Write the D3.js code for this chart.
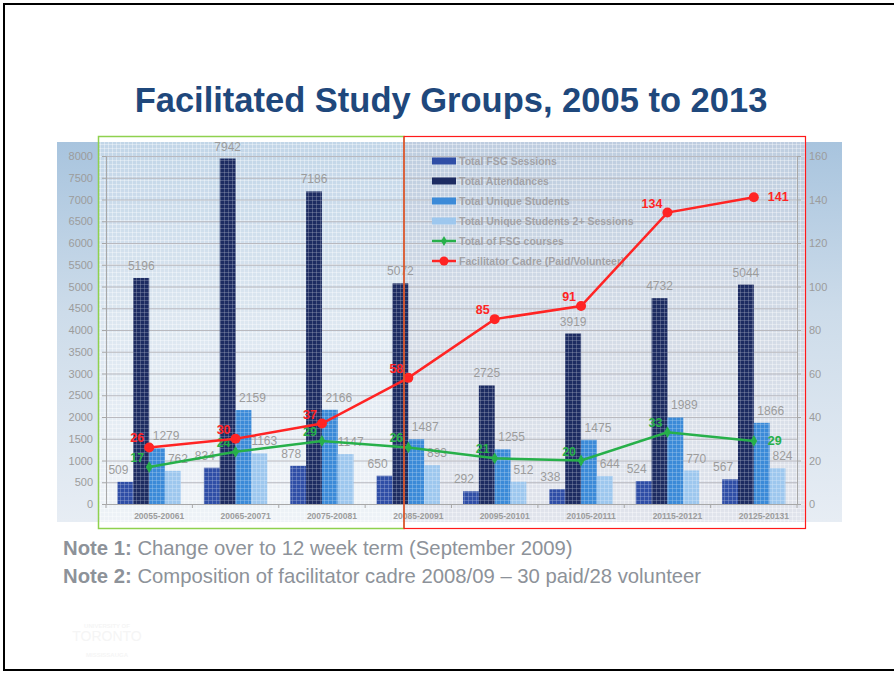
<!DOCTYPE html>
<html>
<head>
<meta charset="utf-8">
<script src="https://cdn.jsdelivr.net/npm/d3@7"></script>
<style>
  body { margin: 0; background: #fff; }
  svg { display: block; font-family: "Liberation Sans", Arial, sans-serif; }
</style>
</head>
<body>
<script>
(function(){

//chart data
var terms = ["20055-20061", "20065-20071", "20075-20081", "20085-20091", "20095-20101", "20105-20111", "20115-20121", "20125-20131"];
var barSeries = ["Total FSG Sessions", "Total Attendances", "Total Unique Students", "Total Unique Students 2+ Sessions"];
var sessions = [509, 834, 878, 650, 292, 338, 524, 567];
var attendances = [5196, 7942, 7186, 5072, 2725, 3919, 4732, 5044];
var uniqueStudents = [1279, 2159, 2166, 1487, 1255, 1475, 1989, 1866];
var uniqueTwoPlus = [762, 1163, 1147, 893, 512, 644, 770, 824];
var fsgCourses = [17, 24, 29, 26, 21, 20, 33, 29];
var cadre = [26, 30, 37, 58, 85, 91, 134, 141];
var leftTicks = d3.range(0, 8001, 500);
var rightTicks = d3.range(0, 161, 20);

var barColors = ["#2f4ea6", "#1d2c62", "#3b8ad8", "#9dc7ee"];
var barDx = [-7, 0, 9, 5];
var gray = "#9c9c9c";

window.onload = drawChart();

function drawChart(){
    var width = 894,
        height = 673;

    var svg = d3.select("body")
        .append("svg")
        .attr("width", width)
        .attr("height", height);

    var defs = svg.append("defs");

    //background gradient of the chart block
    var grad = defs.append("linearGradient")
        .attr("id", "bg")
        .attr("x1", 0).attr("y1", 0).attr("x2", 0).attr("y2", 1);
    grad.append("stop").attr("offset", "0%").attr("stop-color", "#a8c4de");
    grad.append("stop").attr("offset", "45%").attr("stop-color", "#cddcea");
    grad.append("stop").attr("offset", "100%").attr("stop-color", "#e7edf4");

    //little grid texture
    var tex = defs.append("pattern")
        .attr("id", "tex")
        .attr("patternUnits", "userSpaceOnUse")
        .attr("width", 4).attr("height", 4);
    tex.append("rect").attr("width", 4).attr("height", 1).attr("fill", "#fff").attr("opacity", 0.35);
    tex.append("rect").attr("width", 1).attr("height", 4).attr("fill", "#fff").attr("opacity", 0.35);

    //frame of the slide
    svg.append("rect")
        .attr("x", 4).attr("y", 4)
        .attr("width", 900).attr("height", 666)
        .attr("fill", "none")
        .attr("stroke", "#000")
        .attr("stroke-width", 2);

    svg.append("text")
        .attr("x", 451).attr("y", 112)
        .attr("text-anchor", "middle")
        .attr("font-size", 34.5)
        .attr("font-weight", "bold")
        .attr("fill", "#1f487c")
        .text("Facilitated Study Groups, 2005 to 2013");

    //chart block background
    svg.append("rect")
        .attr("x", 57).attr("y", 142)
        .attr("width", 785).attr("height", 380)
        .attr("fill", "url(#bg)");
    svg.append("rect")
        .attr("x", 98).attr("y", 142)
        .attr("width", 306).attr("height", 380)
        .attr("fill", "#fff").attr("opacity", 0.3);
    svg.append("rect")
        .attr("x", 404).attr("y", 142)
        .attr("width", 402).attr("height", 380)
        .attr("fill", "#d9d9e3").attr("opacity", 0.45);
    svg.append("rect")
        .attr("x", 98).attr("y", 142)
        .attr("width", 708).attr("height", 380)
        .attr("fill", "url(#tex)");

    var plot = {left: 106, right: 797, top: 156, bottom: 504};

    var x = d3.scaleBand()
        .domain(terms)
        .range([plot.left, plot.right]);

    var xInner = d3.scaleBand()
        .domain(barSeries)
        .range([0, x.bandwidth()])
        .paddingOuter(0.73);

    var yLeft = d3.scaleLinear()
        .domain([0, 8000])
        .range([plot.bottom, plot.top]);

    var yRight = d3.scaleLinear()
        .domain([0, 160])
        .range([plot.bottom, plot.top]);

    //gridlines
    svg.append("g")
        .selectAll("line")
        .data(leftTicks)
        .enter()
        .append("line")
        .attr("x1", plot.left).attr("x2", plot.right)
        .attr("y1", function(d){ return yLeft(d) + 0.5; })
        .attr("y2", function(d){ return yLeft(d) + 0.5; })
        .attr("stroke", "#b9b9bf")
        .attr("stroke-width", 1);

    //axes
    var axisLeft = svg.append("g")
        .attr("transform", "translate(" + plot.left + ",0)")
        .call(d3.axisLeft(yLeft).tickValues(leftTicks).tickSize(4).tickPadding(9).tickFormat(d3.format("d")));

    var axisRight = svg.append("g")
        .attr("transform", "translate(" + plot.right + ",0)")
        .call(d3.axisRight(yRight).tickValues(rightTicks).tickSize(4).tickPadding(8));

    var axisBottom = svg.append("g")
        .attr("transform", "translate(0," + plot.bottom + ")")
        .call(d3.axisBottom(x).tickSize(0).tickPadding(9));

    //tick marks between the groups
    axisBottom.selectAll(".sep")
        .data(terms.concat(["end"]))
        .enter()
        .append("line")
        .attr("class", "sep")
        .attr("x1", function(d, i){ return plot.left + i * x.step(); })
        .attr("x2", function(d, i){ return plot.left + i * x.step(); })
        .attr("y1", 0).attr("y2", 4)
        .attr("stroke", "#a8a8a8");

    [axisLeft, axisRight, axisBottom].forEach(function(a){
        a.select(".domain").attr("stroke", "#a8a8a8");
        a.selectAll(".tick line").attr("stroke", "#a8a8a8");
        a.selectAll("text").attr("fill", gray).attr("font-family", "Liberation Sans, Arial, sans-serif");
    });
    axisLeft.selectAll("text").attr("font-size", 11);
    axisRight.selectAll("text").attr("font-size", 11);
    axisBottom.selectAll(".tick text")
        .attr("font-size", 8.5)
        .attr("font-weight", "bold")
        .attr("dx", 10);

    //bars
    var barValues = [sessions, attendances, uniqueStudents, uniqueTwoPlus];
    var rows = [];
    terms.forEach(function(t, i){
        barSeries.forEach(function(s, j){
            rows.push({term: t, series: s, k: j, value: barValues[j][i]});
        });
    });

    var bars = svg.append("g");
    bars.selectAll("rect.bar")
        .data(rows)
        .enter()
        .append("rect")
        .attr("class", "bar")
        .attr("x", function(d){ return x(d.term) + xInner(d.series); })
        .attr("y", function(d){ return yLeft(d.value); })
        .attr("width", xInner.bandwidth())
        .attr("height", function(d){ return plot.bottom - yLeft(d.value); })
        .attr("fill", function(d){ return barColors[d.k]; });
    //texture on the bars
    bars.selectAll("rect.tx")
        .data(rows)
        .enter()
        .append("rect")
        .attr("class", "tx")
        .attr("x", function(d){ return x(d.term) + xInner(d.series); })
        .attr("y", function(d){ return yLeft(d.value); })
        .attr("width", xInner.bandwidth())
        .attr("height", function(d){ return plot.bottom - yLeft(d.value); })
        .attr("fill", "url(#tex)")
        .attr("opacity", 0.6);

    bars.selectAll("text")
        .data(rows)
        .enter()
        .append("text")
        .attr("x", function(d){ return x(d.term) + xInner(d.series) + xInner.bandwidth() / 2 + barDx[d.k]; })
        .attr("y", function(d){ return yLeft(d.value) - 8; })
        .attr("text-anchor", "middle")
        .attr("font-size", 12)
        .attr("fill", gray)
        .text(function(d){ return d.value; });

    //legend
    var legend = svg.append("g").attr("transform", "translate(432,161)");
    var legendItems = barSeries.concat(["Total of FSG courses", "Facilitator Cadre (Paid/Volunteer)"]);
    var li = legend.selectAll("g")
        .data(legendItems)
        .enter()
        .append("g")
        .attr("transform", function(d, i){ return "translate(0," + (i * 20) + ")"; });
    li.filter(function(d, i){ return i < 4; })
        .append("rect")
        .attr("x", 0).attr("y", -3.5)
        .attr("width", 24).attr("height", 7)
        .attr("fill", function(d, i){ return barColors[i]; });
    li.filter(function(d, i){ return i >= 4; })
        .append("line")
        .attr("x1", 0).attr("x2", 24)
        .attr("stroke", function(d, i){ return i === 0 ? "#27b04a" : "#ff2424"; })
        .attr("stroke-width", 2.5);
    li.filter(function(d, i){ return i === 4; })
        .append("path")
        .attr("transform", "translate(12,0)")
        .attr("d", d3.symbol(d3.symbolDiamond, 30))
        .attr("fill", "#27b04a");
    li.filter(function(d, i){ return i === 5; })
        .append("circle")
        .attr("cx", 12).attr("r", 4.5)
        .attr("fill", "#ff2424");
    li.append("text")
        .attr("x", 27).attr("dy", "0.35em")
        .attr("font-size", 10.5)
        .attr("font-weight", "bold")
        .attr("fill", "#a2a2a6")
        .text(function(d){ return d; });

    //lines
    var cx = function(d, i){ return x(terms[i]) + x.bandwidth() / 2; };
    var line = d3.line()
        .x(cx)
        .y(function(d){ return yRight(d); });

    var lineSets = [
        {values: fsgCourses, color: "#27b04a", sym: "diamond"},
        {values: cadre, color: "#ff2424", sym: "circle"}
    ];

    lineSets.forEach(function(s){
        var g = svg.append("g");
        g.append("path")
            .datum(s.values)
            .attr("d", line)
            .attr("fill", "none")
            .attr("stroke", s.color)
            .attr("stroke-width", 2.5);
        if (s.sym === "circle") {
            g.selectAll("circle")
                .data(s.values)
                .enter()
                .append("circle")
                .attr("cx", cx)
                .attr("cy", function(d){ return yRight(d); })
                .attr("r", 5)
                .attr("fill", s.color);
        } else {
            g.selectAll("path.pt")
                .data(s.values)
                .enter()
                .append("path")
                .attr("class", "pt")
                .attr("transform", function(d, i){ return "translate(" + cx(d, i) + "," + yRight(d) + ")"; })
                .attr("d", d3.symbol(d3.symbolDiamond, 40))
                .attr("fill", s.color);
        }
        //labels sit left of the point, the last one to the right
        var last = s.values.length - 1;
        g.selectAll("text")
            .data(s.values)
            .enter()
            .append("text")
            .attr("x", function(d, i){ return i === last ? cx(d, i) + 14 : cx(d, i) - 5; })
            .attr("y", function(d, i){
                if (i === last) return yRight(d) + 4;
                return yRight(d) - (s.sym === "circle" ? 5 : 5);
            })
            .attr("text-anchor", function(d, i){ return i === last ? "start" : "end"; })
            .attr("font-size", 12.5)
            .attr("font-weight", "bold")
            .attr("fill", s.color)
            .text(function(d){ return d; });
    });

    //boxes marking the two periods
    svg.append("rect")
        .attr("x", 98.5).attr("y", 136.5)
        .attr("width", 305.5).attr("height", 392)
        .attr("fill", "none")
        .attr("stroke", "#8fd14f")
        .attr("stroke-width", 1.5);
    svg.append("rect")
        .attr("x", 404).attr("y", 136.5)
        .attr("width", 401.5).attr("height", 392)
        .attr("fill", "none")
        .attr("stroke", "#ff1a1a")
        .attr("stroke-width", 1.2);

    //notes
    var notes = [
        ["Note 1:", " Change over to 12 week term (September 2009)"],
        ["Note 2:", " Composition of facilitator cadre 2008/09 \u2013 30 paid/28 volunteer"]
    ];
    notes.forEach(function(n, i){
        var t = svg.append("text")
            .attr("x", 63).attr("y", 555 + i * 28)
            .attr("font-size", 20.3)
            .attr("fill", "#8d9299");
        t.append("tspan").attr("font-weight", "bold").text(n[0]);
        t.append("tspan").text(n[1]);
    });

    //faint logo text
    var logo = svg.append("g").attr("fill", "#f5f5f5").attr("font-weight", "bold").attr("text-anchor", "middle");
    logo.append("text").attr("x", 107).attr("y", 628).attr("font-size", 6).text("UNIVERSITY OF");
    logo.append("text").attr("x", 107).attr("y", 641).attr("font-size", 14).attr("font-weight", "normal").text("TORONTO");
    logo.append("text").attr("x", 107).attr("y", 657).attr("font-size", 6).text("MISSISSAUGA");
};

})();
</script>
</body>
</html>
